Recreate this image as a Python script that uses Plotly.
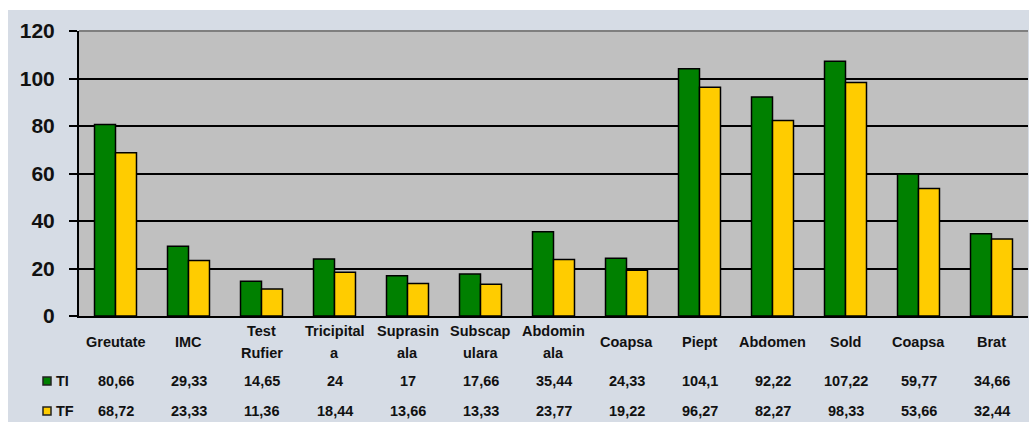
import plotly.graph_objects as go

categories = ["Greutate", "IMC", "Test<br>Rufier", "Tricipital<br>a", "Suprasin<br>ala",
              "Subscap<br>ulara", "Abdomin<br>ala", "Coapsa", "Piept", "Abdomen",
              "Sold", "Coapsa", "Brat"]
ti_values = [80.66, 29.33, 14.65, 24, 17, 17.66, 35.44, 24.33, 104.1, 92.22, 107.22, 59.77, 34.66]
tf_values = [68.72, 23.33, 11.36, 18.44, 13.66, 13.33, 23.77, 19.22, 96.27, 82.27, 98.33, 53.66, 32.44]
series_names = ["TI", "TF"]
y_ticks = [0, 20, 40, 60, 80, 100, 120]

GREEN = "#008000"
YELLOW = "#FFCC00"
BG = "#D6DCE5"
PLOT_BG = "#C0C0C0"

W, H = 1029, 422
ML, MT, MR, MB = 79, 31, 1, 106
PW = W - ML - MR
PH = H - MT - MB


def px2paper_x(px):
    return (px - ML) / PW


def px2paper_y(py):
    return (H - MB - py) / PH


def fmt(v):
    return f"{v:g}".replace(".", ",")


xs = list(range(len(categories)))
fig = go.Figure()
fig.add_trace(go.Bar(x=xs, y=ti_values, name=series_names[0], marker=dict(color=GREEN, line=dict(color="black", width=1.5))))
fig.add_trace(go.Bar(x=xs, y=tf_values, name=series_names[1], marker=dict(color=YELLOW, line=dict(color="black", width=1.5))))

font_main = dict(family="Liberation Sans", size=14.5, color="#111111", weight="bold")
ann = []
cat_y = 342
for i, c in enumerate(categories):
    lines = c.split("<br>")
    if len(lines) == 1:
        ann.append(dict(x=i, y=px2paper_y(cat_y), xref="x", yref="paper", text=lines[0],
                        showarrow=False, font=font_main, xanchor="center", yanchor="middle"))
    else:
        for k, ln in enumerate(lines):
            ann.append(dict(x=i, y=px2paper_y(cat_y - 11 + 22 * k), xref="x", yref="paper", text=ln,
                            showarrow=False, font=font_main, xanchor="center", yanchor="middle"))

rows = [(ti_values, 381), (tf_values, 411)]
for vals, py in rows:
    for i, v in enumerate(vals):
        ann.append(dict(x=i, y=px2paper_y(py), xref="x", yref="paper", text=fmt(v),
                        showarrow=False, font=font_main, xanchor="center", yanchor="middle"))

shapes = [
    # white strips
    dict(type="rect", xref="paper", yref="paper", x0=px2paper_x(0), x1=px2paper_x(8),
         y0=px2paper_y(H), y1=px2paper_y(0), fillcolor="white", line=dict(width=0), layer="below"),
    dict(type="rect", xref="paper", yref="paper", x0=px2paper_x(0), x1=px2paper_x(W + 2),
         y0=px2paper_y(10), y1=px2paper_y(0), fillcolor="white", line=dict(width=0), layer="below"),
    # top border
    dict(type="line", xref="paper", yref="paper", x0=0, x1=1, y0=1, y1=1,
         line=dict(color="#7F7F7F", width=2), layer="above"),
]
colors = [GREEN, YELLOW]
for k, (name, py) in enumerate(zip(series_names, [381, 411])):
    shapes.append(dict(type="rect", xref="paper", yref="paper", x0=px2paper_x(43), x1=px2paper_x(51),
                       y0=px2paper_y(py + 4), y1=px2paper_y(py - 4), fillcolor=colors[k],
                       line=dict(color="#222222", width=1.5)))
    ann.append(dict(x=px2paper_x(54), y=px2paper_y(py), xref="paper", yref="paper", text=name,
                    showarrow=False, font=font_main, xanchor="left", yanchor="middle"))

fig.update_layout(
    width=W, height=H,
    margin=dict(l=ML, r=MR, t=MT, b=MB, pad=0),
    paper_bgcolor=BG, plot_bgcolor=PLOT_BG,
    barmode="group", bargap=0.425, bargroupgap=0,
    showlegend=False,
    annotations=ann, shapes=shapes,
    xaxis=dict(range=[-0.5, len(categories) - 0.5], showticklabels=False, showgrid=False,
               zeroline=False, showline=True, linecolor="black", linewidth=2, ticks=""),
    yaxis=dict(range=[0, 120], tickvals=y_ticks, showgrid=True, gridcolor="black", gridwidth=2,
               zeroline=False, showline=True, linecolor="black", linewidth=2,
               ticks="outside", ticklen=8, tickwidth=2, tickcolor="black", ticklabelstandoff=10,
               tickfont=dict(family="Liberation Sans", size=21, color="#111111", weight="bold")),
)

fig.write_html("out.html")
